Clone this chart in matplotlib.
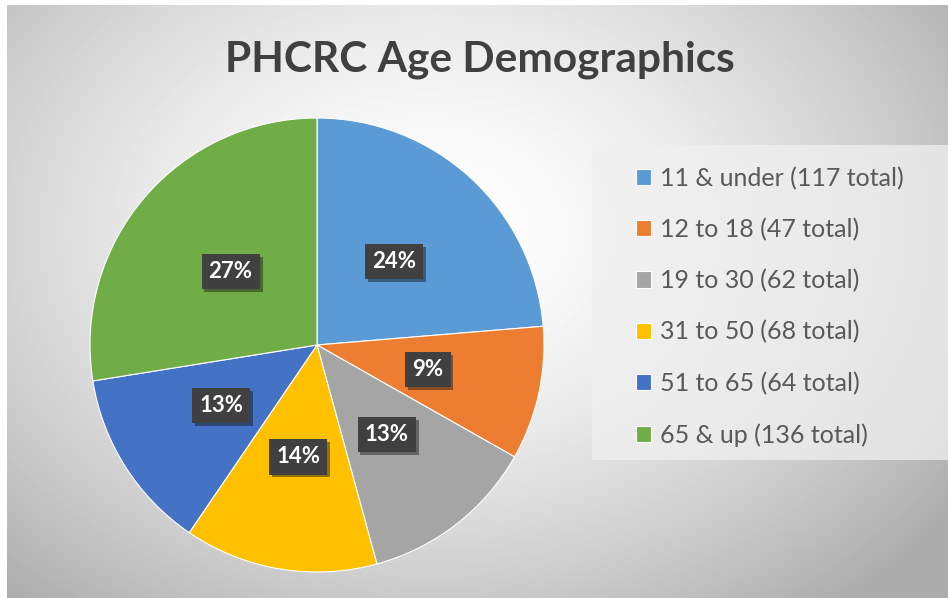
import numpy as np
import matplotlib.pyplot as plt
import matplotlib.patheffects as pe
from matplotlib.patches import Rectangle

plt.rcParams['font.family'] = ['Lato', 'DejaVu Sans']

'''PHCRC age demographics, Excel style pie'''
groups = ['11 & under', '12 to 18', '19 to 30', '31 to 50', '51 to 65', '65 & up']
totals = [117, 47, 62, 68, 64, 136]
pct_labels = ['24%', '9%', '13%', '14%', '13%', '27%']
colors = ['#5B9BD5', '#ED7D31', '#A5A5A5', '#FFC000', '#4472C4', '#70AD47']

W, H = 948, 598
fig = plt.figure(figsize=(W/100, H/100), dpi=100)

# radial gradient background
bg = fig.add_axes([0, 0, 1, 1])
yy, xx = np.mgrid[0:H, 0:W]
d = np.hypot((xx - 430)/560, (yy - 230)/420)
shade = 1.0 - 0.26*np.clip(d, 0, 1.15)**1.6
bg.imshow(shade, cmap='gray', vmin=0, vmax=1, aspect='auto', extent=(0, W, H, 0))
bg.set_xlim(0, W)
bg.set_ylim(H, 0)
bg.axis('off')
# thin white margin top/left like the screenshot
bg.add_patch(Rectangle((0, 0), W, 5, color='white', lw=0))
bg.add_patch(Rectangle((0, 0), 7, H, color='white', lw=0))
# legend panel
bg.add_patch(Rectangle((592, 145), W - 592, 315, facecolor='#f0f0f0', alpha=0.75, lw=0))

bg.text(480, 60, 'PHCRC Age Demographics', ha='center', va='center',
        fontsize=30.5, fontweight='bold', color='#404040')

cx, cy, r = 317, 345, 227
ax = fig.add_axes([(cx - r)/W, (H - cy - r)/H, 2*r/W, 2*r/H])
wedges, texts = ax.pie(totals, colors=colors, startangle=90, counterclock=False,
                       wedgeprops=dict(edgecolor='white', linewidth=0.8))
ax.set_xlim(-1, 1)
ax.set_ylim(-1, 1)
ax.set_aspect('equal')
ax.axis('off')

# data labels at half radius
frac = np.array(totals) / sum(totals)
mids = 90 - 360*(np.cumsum(frac) - frac/2)
for ang, lab in zip(mids, pct_labels):
    x = 0.5*np.cos(np.radians(ang))
    y = 0.5*np.sin(np.radians(ang))
    t = ax.text(x, y, lab, ha='center', va='center', color='white',
                fontsize=16, fontweight='bold',
                bbox=dict(boxstyle='square,pad=0.32', facecolor='#404040', edgecolor='none'))
    t.get_bbox_patch().set_path_effects([pe.withSimplePatchShadow(offset=(2, -2), alpha=0.45)])

leg_labels = ['%s (%d total)' % (g, n) for g, n in zip(groups, totals)]
fig.legend(wedges, leg_labels, loc='upper left', bbox_to_anchor=(613/W, 1 - 144/H),
           frameon=False, fontsize=18, handlelength=0.62, handleheight=0.62,
           handletextpad=0.35, labelspacing=1.12, labelcolor='#595959')

fig.savefig('out.png', dpi=100)
